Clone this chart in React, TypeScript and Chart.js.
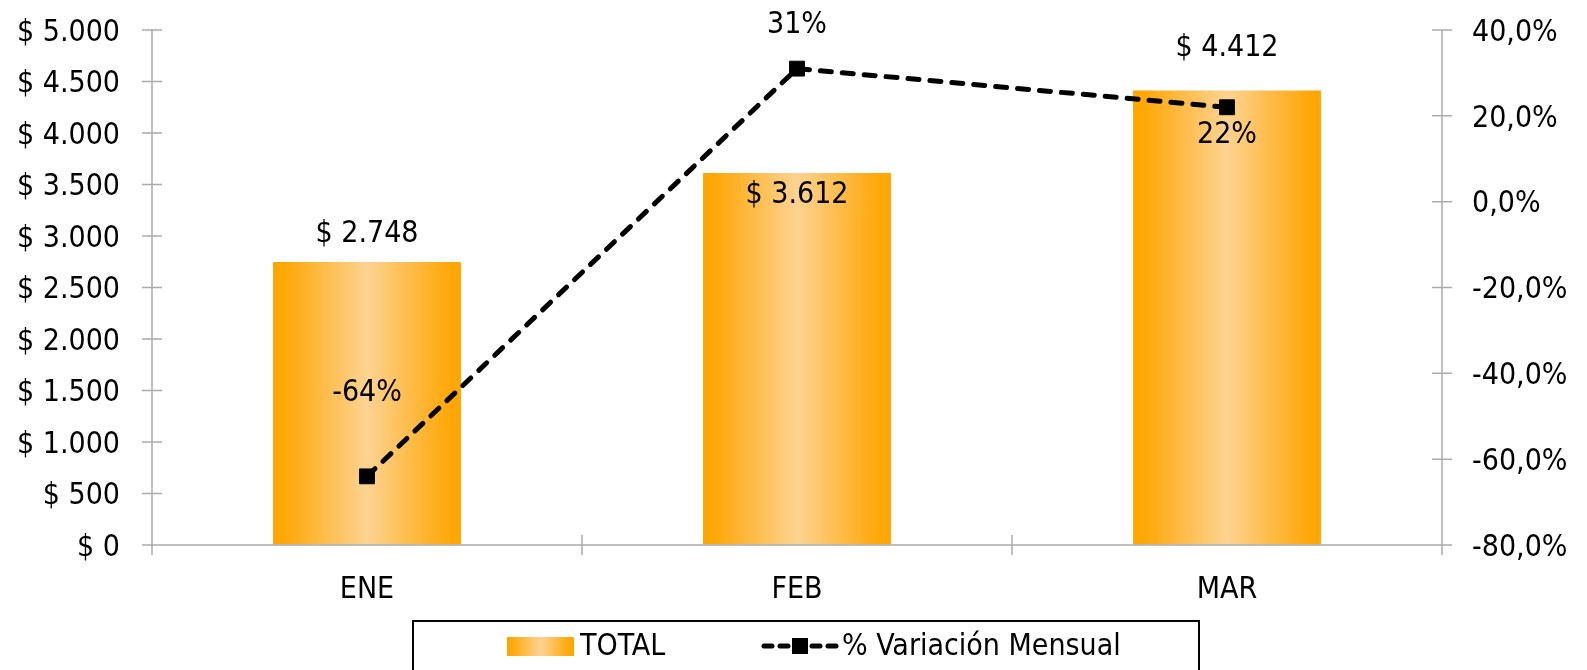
import React, { useEffect, useRef } from "react";
import { Chart, registerables } from "chart.js";

Chart.register(...registerables);

const categories = ["ENE", "FEB", "MAR"];
const totalValues = [2748, 3612, 4412];
const variationValues = [-0.64, 0.31, 0.22];
const leftTickValues = [0, 500, 1000, 1500, 2000, 2500, 3000, 3500, 4000, 4500, 5000];
const rightTickValues = [-0.8, -0.6, -0.4, -0.2, 0, 0.2, 0.4];
const seriesNames = ["TOTAL", "% Variación Mensual"];

const FONT = '"DejaVu Sans Condensed", "Liberation Sans", sans-serif';
const FONT_SIZE = 30;
const AXIS_COLOR = "#ababab";
const W = 1587;
const H = 670;
const BAR_PCT = 0.437;

const fmtMoney = (v: number) =>
  "$ " + Math.round(v).toString().replace(/\B(?=(\d{3})+(?!\d))/g, ".");
const fmtPctTick = (v: number) => {
  const s = (Math.round(v * 1000) / 10).toFixed(1).replace(".", ",");
  return (s === "-0,0" ? "0,0" : s) + "%";
};
const fmtPct = (v: number) => Math.round(v * 100) + "%";

const barGradient = (ctx: CanvasRenderingContext2D, x0: number, x1: number) => {
  const g = ctx.createLinearGradient(x0, 0, x1, 0);
  g.addColorStop(0, "#FFA500");
  g.addColorStop(0.08, "#FFA90C");
  g.addColorStop(0.5, "#FDD392");
  g.addColorStop(0.92, "#FFA90C");
  g.addColorStop(1, "#FFA500");
  return g;
};

const barLabelOffsets = [-28, 22, -42];
const lineLabelOffsets = [-83, -43, 28];

const decorPlugin = {
  id: "decor",
  beforeDatasetsDraw(chart: any) {
    const ctx = chart.ctx;
    const meta = chart.getDatasetMeta(0);
    meta.data.forEach((bar: any) => {
      const w = bar.width;
      bar.options = Object.assign({}, bar.options, {
        backgroundColor: barGradient(ctx, bar.x - w / 2, bar.x + w / 2),
      });
    });
  },
  afterDatasetsDraw(chart: any) {
    const ctx = chart.ctx;
    ctx.save();
    ctx.fillStyle = "#000";
    ctx.font = `${FONT_SIZE}px ${FONT}`;
    ctx.textAlign = "center";
    ctx.textBaseline = "middle";
    const barMeta = chart.getDatasetMeta(0);
    barMeta.data.forEach((bar: any, i: number) => {
      ctx.fillText(fmtMoney(totalValues[i]), bar.x, bar.y + barLabelOffsets[i]);
    });
    const lineMeta = chart.getDatasetMeta(1);
    lineMeta.data.forEach((pt: any, i: number) => {
      ctx.fillText(fmtPct(variationValues[i]), pt.x, pt.y + lineLabelOffsets[i]);
    });
    ctx.restore();
  },
  afterDraw(chart: any) {
    const ctx = chart.ctx;
    const { left, right, top, bottom } = chart.chartArea;
    ctx.save();
    ctx.strokeStyle = AXIS_COLOR;
    ctx.lineWidth = 1.5;
    ctx.beginPath();
    ctx.moveTo(left, top);
    ctx.lineTo(left, bottom + 10);
    ctx.moveTo(right, top);
    ctx.lineTo(right, bottom + 10);
    ctx.moveTo(left - 10, bottom);
    ctx.lineTo(right + 10, bottom);
    const y = chart.scales.y;
    y.ticks.forEach((_t: any, i: number) => {
      const p = y.getPixelForTick(i);
      ctx.moveTo(left - 10, p);
      ctx.lineTo(left + 10, p);
    });
    const y1 = chart.scales.y1;
    y1.ticks.forEach((_t: any, i: number) => {
      const p = y1.getPixelForTick(i);
      ctx.moveTo(right - 10, p);
      ctx.lineTo(right + 10, p);
    });
    const n = categories.length;
    for (let i = 0; i <= n; i++) {
      const p = left + ((right - left) * i) / n;
      ctx.moveTo(p, bottom - 10);
      ctx.lineTo(p, bottom + 10);
    }
    ctx.stroke();

    // legend
    ctx.strokeStyle = "#000";
    ctx.lineWidth = 2;
    ctx.strokeRect(413, 621, 786, 80);
    ctx.fillStyle = barGradient(ctx, 507, 574);
    ctx.fillRect(507, 637, 67, 19);
    ctx.fillStyle = "#000";
    ctx.font = `${FONT_SIZE}px ${FONT}`;
    ctx.textAlign = "left";
    ctx.textBaseline = "middle";
    ctx.fillText(seriesNames[0], 580, 647);
    ctx.beginPath();
    ctx.setLineDash([8, 8]);
    ctx.lineCap = "round";
    ctx.lineWidth = 5;
    ctx.moveTo(764, 646);
    ctx.lineTo(836, 646);
    ctx.stroke();
    ctx.setLineDash([]);
    ctx.fillRect(792, 638, 16, 16);
    ctx.fillText(seriesNames[1], 842, 647);
    ctx.restore();
  },
};

export default function App() {
  const ref = useRef<HTMLCanvasElement | null>(null);
  useEffect(() => {
    if (!ref.current) return;
    const chart = new Chart(ref.current, {
      type: "bar",
      data: {
        labels: categories,
        datasets: [
          {
            type: "bar",
            label: seriesNames[0],
            data: totalValues,
            backgroundColor: () => "#FFB840",
            borderWidth: 0,
            yAxisID: "y",
            barPercentage: BAR_PCT,
            categoryPercentage: 1,
            order: 2,
          },
          {
            type: "line",
            label: seriesNames[1],
            data: variationValues,
            yAxisID: "y1",
            borderColor: "#000",
            borderWidth: 5,
            borderDash: [11, 11],
            borderCapStyle: "round",
            pointStyle: "rect",
            pointRadius: 10.5,
            pointBackgroundColor: "#000",
            pointBorderColor: "#000",
            pointBorderWidth: 1,
            tension: 0,
            fill: false,
            order: 1,
          } as any,
        ],
      },
      options: {
        responsive: false,
        animation: false,
        devicePixelRatio: 1,
        layout: { padding: { top: 30, left: 0, right: 0, bottom: 0 } },
        plugins: {
          legend: { display: false },
          tooltip: { enabled: false },
        },
        scales: {
          x: {
            offset: true,
            grid: {
              display: true,
              drawOnChartArea: false,
              color: "rgba(0,0,0,0)",
              tickLength: 10,
              offset: true,
            },
            border: { display: false },
            ticks: {
              color: "#000",
              font: { family: FONT, size: FONT_SIZE },
              padding: 17,
              maxRotation: 0,
            },
            afterFit: (s: any) => {
              s.height = 125;
            },
          },
          y: {
            position: "left",
            min: 0,
            max: 5000,
            afterBuildTicks: (s: any) => {
              s.ticks = leftTickValues.map((v) => ({ value: v }));
            },
            grid: {
              display: true,
              drawOnChartArea: false,
              color: "rgba(0,0,0,0)",
              tickLength: 32,
            },
            border: { display: false },
            ticks: {
              color: "#000",
              font: { family: FONT, size: FONT_SIZE },
              padding: 0,
              labelOffset: 3,
              callback: (v: any) => fmtMoney(Number(v)),
            },
            afterFit: (s: any) => {
              s.width = 152;
            },
          },
          y1: {
            position: "right",
            min: -0.8,
            max: 0.4,
            afterBuildTicks: (s: any) => {
              s.ticks = rightTickValues.map((v) => ({ value: v }));
            },
            grid: {
              display: true,
              drawOnChartArea: false,
              color: "rgba(0,0,0,0)",
              tickLength: 30,
            },
            border: { display: false },
            ticks: {
              color: "#000",
              font: { family: FONT, size: FONT_SIZE },
              padding: 0,
              labelOffset: 3,
              callback: (v: any) => fmtPctTick(Number(v)),
            },
            afterFit: (s: any) => {
              s.width = W - 1442;
            },
          },
        },
      } as any,
      plugins: [decorPlugin],
    });
    return () => chart.destroy();
  }, []);

  return (
    <div style={{ position: "absolute", left: 0, top: 0, width: W, height: H, background: "#fff" }}>
      <canvas ref={ref} width={W} height={H} style={{ display: "block", width: W, height: H }} />
    </div>
  );
}
